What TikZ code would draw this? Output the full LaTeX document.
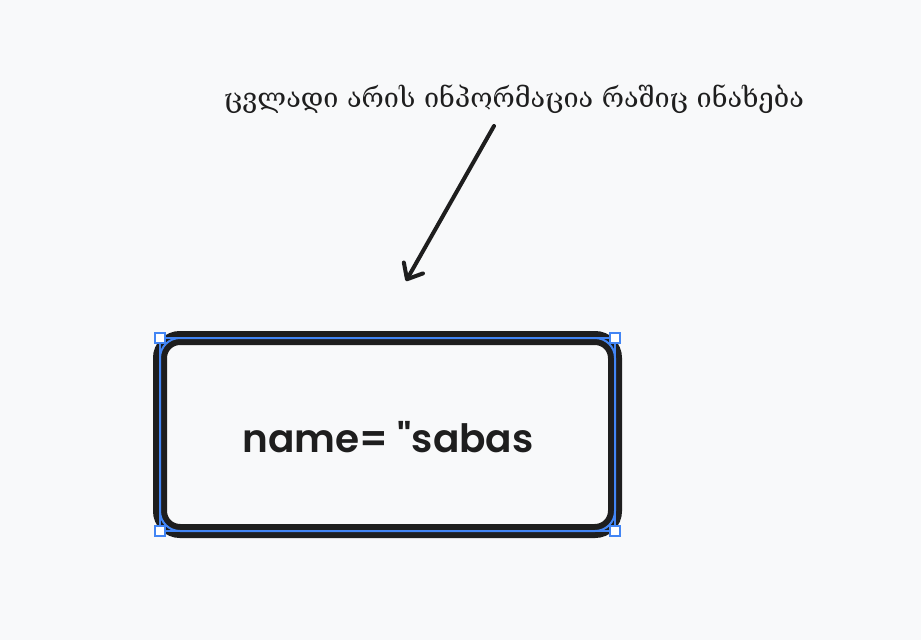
\documentclass[tikz,border=0pt]{standalone}
\usepackage{fontspec}
\usetikzlibrary{arrows.meta}
\newfontfamily\geofont{DejaVu Serif}
\newfontfamily\handfont{Poppins SemiBold}
\definecolor{bg}{HTML}{F8F9FA}
\definecolor{ink}{HTML}{1E1E1E}
\definecolor{selblue}{RGB}{66,133,244}
\tikzset{
  boxstyle/.style={draw=ink, line width=14pt, rounded corners=20pt, inner sep=0pt, outer sep=0pt, fill=bg},
  selline/.style={draw=selblue, line width=2pt},
  handle/.style={draw=selblue, fill=white, line width=1.8pt, minimum size=10pt, inner sep=0pt},
  arrowline/.style={draw=ink, line width=4pt, line cap=round, -{Straight Barb[round, length=13pt, width=22pt]}},
  geotext/.style={font=\geofont\fontsize{27}{32}\selectfont, text=ink, inner sep=0pt},
  handtext/.style={font=\handfont\fontsize{39}{44}\selectfont, text=ink, inner sep=0pt}
}
\begin{document}
\begin{tikzpicture}[x=1pt,y=-1pt]
\useasboundingbox (0,0) rectangle (921,640);
\fill[bg] (0,0) rectangle (921,640);
\node[geotext] (t) at (514,99) {ცვლადი არის ინპორმაცია რაშიც ინახება};
\node[boxstyle, minimum width=455pt, minimum height=193pt] (b) at (387.5,434.5) {};
\node[handtext] (lbl) at (388,437) {name= "sabas};
\draw[selline] (b.north west) rectangle (b.south east);
\draw[selline, rounded corners=20pt] (b.north west) rectangle (b.south east);
\node[handle] (h1) at (b.north west) {};
\node[handle] (h2) at (b.north east) {};
\node[handle] (h3) at (b.south west) {};
\node[handle] (h4) at (b.south east) {};
\coordinate (a1) at (494,126);
\coordinate (a2) at (406,281);
\draw[arrowline] (a1) -- (a2);
\end{tikzpicture}
\end{document}
